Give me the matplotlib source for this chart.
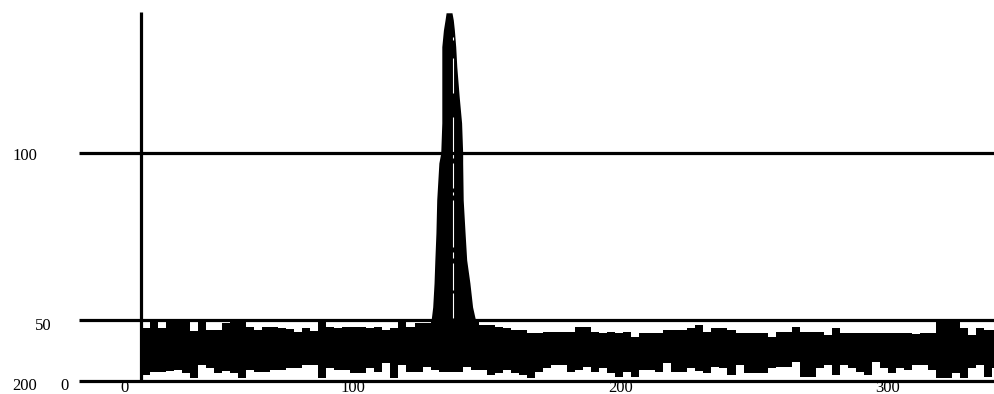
import matplotlib
matplotlib.use("Agg")
import matplotlib.pyplot as plt

x = [21, 24, 27, 30, 33, 36, 39, 42, 45, 48, 51, 54, 57, 60, 63, 66, 69, 72,
     75, 78, 81, 84, 87, 90, 93, 96, 99, 102, 105, 108, 111, 114, 117, 120,
     123, 126, 129, 132, 135, 138, 141, 144, 147, 150, 153, 156, 159, 162,
     165, 168, 171, 174, 177, 180, 183, 186, 189, 192, 195, 198, 201, 204,
     207, 210, 213, 216, 219, 222, 225, 228, 231, 234, 237, 240, 243, 246,
     249, 252, 255, 258, 261, 264, 267, 270, 273, 276, 279, 282, 285, 288,
     291, 294, 297, 300, 303, 306, 309, 312, 315, 318, 321, 324, 327, 330,
     333, 336, 339, 342]
upper = [23.2, 26.3, 23.2, 26.3, 26.3, 26.3, 22.0, 26.3, 22.4, 22.4, 25.4, 26.3,
         26.3, 23.7, 22.5, 23.7, 23.7, 23.2, 23.0, 21.5, 23.2, 22.0, 26.3, 23.7,
         23.2, 23.7, 23.7, 23.7, 23.2, 23.7, 22.5, 23.2, 26.3, 23.7, 25.4, 25.4,
         26.3, 26.3, 26.3, 26.3, 26.3, 26.3, 24.6, 24.6, 23.7, 23.2, 22.4, 22.4,
         21.1, 21.1, 21.5, 21.5, 21.5, 21.5, 23.7, 23.7, 21.5, 21.1, 21.5, 21.1,
         21.5, 19.5, 21.1, 21.1, 21.1, 22.4, 22.4, 22.4, 23.2, 24.6, 21.5, 23.2,
         23.2, 22.4, 21.1, 21.1, 21.1, 21.1, 19.3, 21.5, 21.5, 23.7, 21.5, 21.5,
         21.5, 20.2, 23.2, 21.1, 21.1, 21.1, 21.1, 21.1, 21.1, 21.1, 21.1, 21.1,
         20.5, 21.1, 21.1, 26.3, 26.3, 26.3, 23.2, 20.2, 23.2, 22.4, 22.4, 22.4]
lower = [2.6, 3.9, 3.9, 4.5, 4.8, 3.5, 1.3, 7.0, 5.7, 3.5, 4.5, 3.5,
         1.3, 4.8, 3.9, 3.9, 4.8, 4.8, 5.7, 5.7, 7.0, 7.0, 1.3, 5.7,
         4.8, 4.8, 3.5, 3.5, 5.7, 3.9, 7.9, 1.3, 7.0, 3.9, 3.9, 6.1,
         4.8, 3.9, 3.9, 3.9, 6.0, 4.8, 4.8, 2.6, 3.5, 4.8, 3.5, 2.6,
         1.3, 3.9, 5.7, 7.0, 7.0, 3.9, 4.8, 6.1, 3.9, 5.7, 3.5, 1.75,
         3.9, 1.75, 4.8, 4.8, 3.9, 7.9, 3.9, 3.9, 5.7, 4.5, 3.5, 6.1,
         5.7, 2.6, 7.0, 3.5, 3.5, 3.5, 5.7, 6.1, 6.1, 8.3, 1.75, 1.75,
         5.7, 7.0, 2.6, 7.0, 5.7, 3.9, 2.6, 8.3, 5.7, 3.5, 5.7, 4.8,
         7.0, 7.0, 4.8, 1.3, 1.3, 3.5, 1.3, 5.7, 7.0, 1.75, 5.7, 5.7]

# the peak, as left/right edges at a few heights
peak_y = [24.6, 32.5, 43.0, 53.1, 64.9, 79.4, 95.6, 100.0, 113.2, 124.7,
          137.9, 146.6, 153.9, 158.3, 161.5]
peak_left = [129.0, 129.8, 130.3, 130.6, 131.0, 131.3, 132.1, 132.8, 133.2, 133.2,
             133.2, 133.2, 133.8, 134.4, 134.8]
peak_right = [146.2, 144.7, 143.7, 142.5, 141.9, 141.2, 141.0, 141.0, 140.6, 139.7,
              138.8, 138.4, 137.9, 137.5, 137.0]
# white gaps running down the middle of the peak
gap_x = 137.2
gap_lo = [149.6, 126.2, 97.7, 84.5, 81.6, 58.9, 53.8, 39.9, 27.5]
gap_hi = [150.7, 141.5, 115.9, 95.5, 83.0, 79.4, 56.7, 51.6, 38.5]

hlines_y = [0, 26.75, 100]
axis_x = 20.9
axis_top = 161.8

xtick_pos = [14.4, 100, 200, 300]
xtick_lab = ["0", "100", "200", "300"]
ylab = [("100", -22.8, 98.7), ("50", -15.7, 24.1), ("200", -22.6, -2.2), ("0", -8.0, -2.2)]

fig = plt.figure(figsize=(9.95, 3.94), dpi=100)
ax = fig.add_axes([0, 0, 1, 1])
ax.set_xlim(-31.96, 340.0)
ax.set_ylim(-5.70, 167.1)
ax.axis("off")

ax.fill_between(x, lower, upper, step="post", color="black", lw=0)
ax.fill_betweenx(peak_y, peak_left, peak_right, color="black", lw=0)
ax.vlines([gap_x] * len(gap_lo), gap_lo, gap_hi, color="white", lw=0.8)

for yy in hlines_y:
    ax.plot([-2.4, 340], [yy, yy], color="black", lw=2.3, solid_capstyle="butt")
ax.plot([axis_x, axis_x], [0, axis_top], color="black", lw=2.3, solid_capstyle="butt")

font = dict(family="Liberation Serif", fontsize=12, color="black")
for p, lab in zip(xtick_pos, xtick_lab):
    ax.text(p, -3.0, lab, ha="center", va="center", **font)
for lab, xx, yy in ylab:
    ax.text(xx, yy, lab, ha="center", va="center", **font)

fig.savefig("out.png", dpi=100)
